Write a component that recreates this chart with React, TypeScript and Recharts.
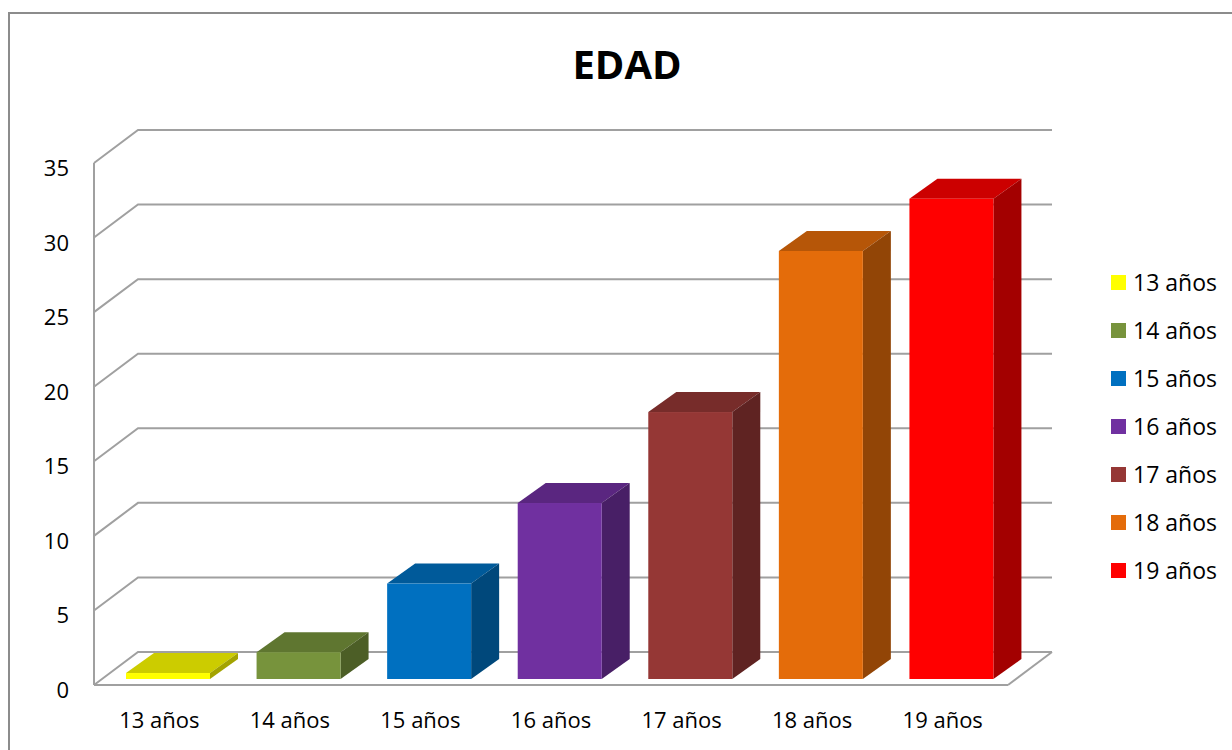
import React from 'react';
import { BarChart, Bar, XAxis, YAxis, CartesianGrid, Legend, Cell } from 'recharts';

const categories = ['13 años', '14 años', '15 años', '16 años', '17 años', '18 años', '19 años'];
const values = [0.4, 1.8, 6.4, 11.8, 17.9, 28.7, 32.2];
const colors = ['#FFFF00', '#77933C', '#0070C0', '#7030A0', '#953735', '#E46C0A', '#FF0000'];
const yTicks = [0, 5, 10, 15, 20, 25, 30, 35];
const title = 'EDAD';

const data = categories.map((c, i) => ({ name: c, value: values[i] }));

const FONT = '"Open Sans", "Liberation Sans", Arial, sans-serif';
const GRID = '#a0a0a0';
const WALL_DX = 44;
const WALL_DY = -33;
const BAR_DX = 28;
const BAR_DY = -20;
const BAR_OFF_X = 9;
const BAR_OFF_Y = -6;

function shade(hex: string, f: number) {
  const n = parseInt(hex.slice(1), 16);
  const r = Math.round(((n >> 16) & 255) * f);
  const g = Math.round(((n >> 8) & 255) * f);
  const b = Math.round((n & 255) * f);
  return `rgb(${r},${g},${b})`;
}

const Box3D = (props: any) => {
  const { x, y, width, height, fill } = props;
  if (width == null || height == null) return null;
  const fx = x + BAR_OFF_X;
  const fy = y + BAR_OFF_Y;
  const w = width;
  const h = height;
  const top = `M${fx},${fy} L${fx + BAR_DX},${fy + BAR_DY} L${fx + w + BAR_DX},${fy + BAR_DY} L${fx + w},${fy} Z`;
  const side = `M${fx + w},${fy} L${fx + w + BAR_DX},${fy + BAR_DY} L${fx + w + BAR_DX},${fy + h + BAR_DY} L${fx + w},${fy + h} Z`;
  return (
    <g>
      <path d={top} fill={shade(fill, 0.8)} />
      <path d={side} fill={shade(fill, 0.64)} />
      <rect x={fx} y={fy} width={w} height={h} fill={fill} />
    </g>
  );
};

const gridLine = (p: any) => {
  const { x1, y1, x2, key, y, height } = p;
  const d = `M${x1},${y1} L${x1 + WALL_DX},${y1 + WALL_DY} L${x2 + WALL_DX},${y1 + WALL_DY}`;
  const isFloor = y != null && height != null && Math.abs(y1 - (y + height)) < 1;
  return (
    <g key={key}>
      <path d={d} stroke={GRID} strokeWidth={2} fill="none" />
      {isFloor && (
        <path d={`M${x2},${y1} L${x2 + WALL_DX},${y1 + WALL_DY}`} stroke={GRID} strokeWidth={2} fill="none" />
      )}
    </g>
  );
};

const YTick = (props: any) => {
  const { x, y, payload } = props;
  return (
    <text x={x} y={y + 4} textAnchor="end" dominantBaseline="central" fontSize={22} fontFamily={FONT} fill="#000">
      {payload.value}
    </text>
  );
};

const XTick = (props: any) => {
  const { x, y, payload } = props;
  return (
    <text x={x} y={y + 26} textAnchor="middle" dominantBaseline="central" fontSize={22} fontFamily={FONT} fill="#000">
      {payload.value}
    </text>
  );
};

const LegendContent = () => (
  <div style={{ fontFamily: FONT, fontSize: 23, color: '#000' }}>
    {categories.map((c, i) => (
      <div key={c} style={{ display: 'flex', alignItems: 'center', height: 48 }}>
        <div style={{ width: 15, height: 15, background: colors[i], marginRight: 7 }} />
        <span style={{ lineHeight: '48px' }}>{c}</span>
      </div>
    ))}
  </div>
);

export default function App() {
  return (
    <div style={{ position: 'fixed', left: 0, top: 0, width: 1232, height: 750, overflow: 'hidden', background: '#fff' }}>
      <div
        style={{
          position: 'absolute',
          left: 8,
          top: 12,
          width: 1300,
          height: 800,
          border: '2px solid #8c8c8c',
          boxSizing: 'border-box',
        }}
      />
      <div
        style={{
          position: 'absolute',
          left: 0,
          top: 0,
          width: 1232,
          textAlign: 'center',
          paddingLeft: 22,
          boxSizing: 'border-box',
          fontFamily: FONT,
          fontWeight: 700,
          fontSize: 40,
          lineHeight: '40px',
          marginTop: 44,
          color: '#000',
        }}
      >
        {title}
      </div>
      <div style={{ position: 'absolute', left: 0, top: 0 }}>
        <BarChart width={1232} height={750} data={data} margin={{ top: 163, right: 224, bottom: 0, left: 0 }}>
          <CartesianGrid vertical={false} horizontal={gridLine} />
          <XAxis
            dataKey="name"
            height={65}
            axisLine={{ stroke: GRID, strokeWidth: 2 }}
            tickLine={false}
            tick={<XTick />}
            interval={0}
          />
          <YAxis
            width={94}
            domain={[0, 35]}
            ticks={yTicks}
            axisLine={{ stroke: GRID, strokeWidth: 2 }}
            tickLine={false}
            tickSize={0}
            tickMargin={25}
            tick={<YTick />}
            interval={0}
          />
          <Legend
            layout="horizontal"
            verticalAlign="middle"
            align="center"
            content={<LegendContent />}
            wrapperStyle={{ position: 'absolute', left: 1111, top: 258, width: 121, height: 340 }}
          />
          <Bar dataKey="value" barSize={84} shape={<Box3D />} isAnimationActive={false}>
            {data.map((d, i) => (
              <Cell key={d.name} fill={colors[i]} />
            ))}
          </Bar>
        </BarChart>
      </div>
    </div>
  );
}
